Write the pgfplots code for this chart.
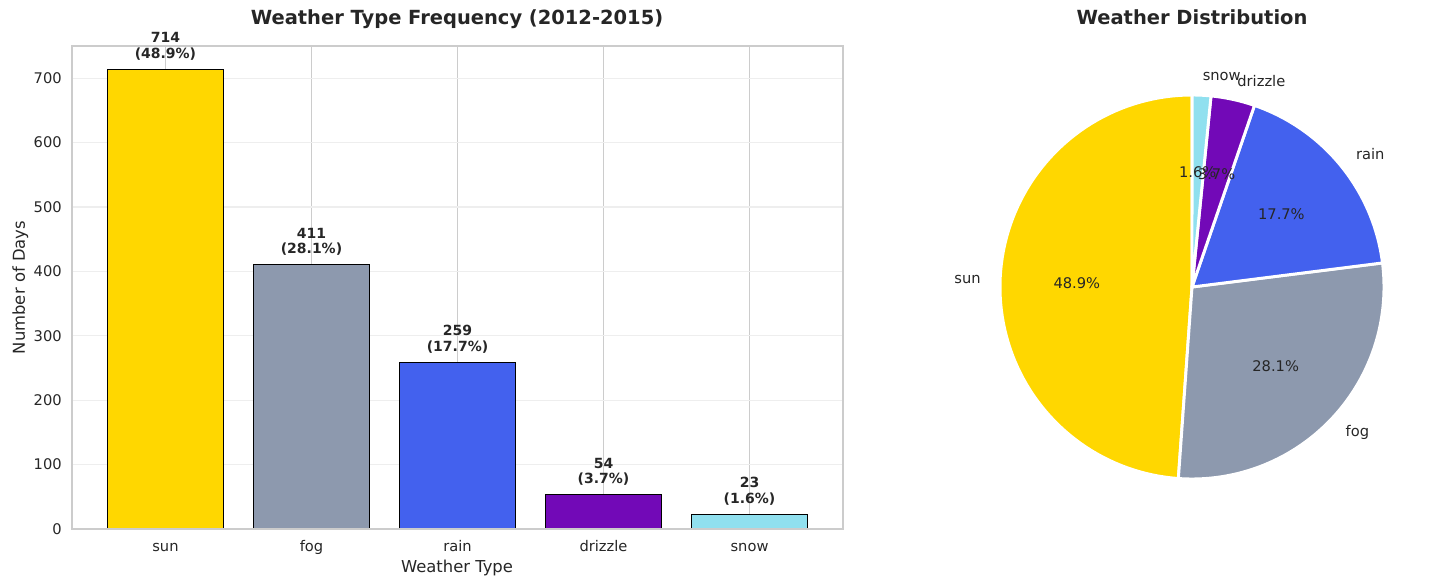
\documentclass[border=0pt]{standalone}
\usepackage{fontspec}
\setmainfont{DejaVu Sans}
\usepackage{pgfplots}
\usepackage{pgfplotstable}
\pgfplotsset{compat=1.18}
\definecolor{c0}{HTML}{FFD700}
\definecolor{c1}{HTML}{8D99AE}
\definecolor{c2}{HTML}{4361EE}
\definecolor{c3}{HTML}{7209B7}
\definecolor{c4}{HTML}{90E0EF}
\definecolor{txt}{HTML}{262626}
\definecolor{frame}{HTML}{CCCCCC}
\definecolor{hgrid}{HTML}{EEEEEE}

\pgfplotstableread{
idx label value pct
0 sun 714 48.9
1 fog 411 28.1
2 rain 259 17.7
3 drizzle 54 3.7
4 snow 23 1.6
}\weather

\newcommand\pa[1]{\csname pstart#1\endcsname}
\newcommand\pb[1]{\csname pend#1\endcsname}
\newcommand\pmd[1]{\csname pmid#1\endcsname}

\begin{document}
\begin{tikzpicture}
\path[use as bounding box] (0pt,0pt) rectangle (1082.25pt,440.25pt);

% pie angles from the table
\pgfmathsetmacro\ptotal{0}
\pgfplotsforeachungrouped \i in {0,...,4}{%
  \pgfplotstablegetelem{\i}{value}\of\weather
  \pgfmathsetmacro\ptotal{\ptotal+\pgfplotsretval}}
\pgfmathsetmacro\pcum{90}
\pgfplotsforeachungrouped \i in {0,...,4}{%
  \pgfplotstablegetelem{\i}{value}\of\weather
  \pgfmathsetmacro\pslice{\pgfplotsretval/\ptotal*360}%
  \expandafter\xdef\csname pstart\i\endcsname{\pcum}%
  \pgfmathsetmacro\pmidv{\pcum+\pslice/2}%
  \expandafter\xdef\csname pmid\i\endcsname{\pmidv}%
  \pgfmathsetmacro\pcum{\pcum+\pslice}%
  \expandafter\xdef\csname pend\i\endcsname{\pcum}%
}

\begin{axis}[
  at={(54pt,43.5pt)}, anchor=south west, scale only axis,
  width=578.25pt, height=362.25pt,
  xmin=-0.64, xmax=4.64, ymin=0, ymax=750,
  xtick={0,...,4},
  xticklabels={sun,fog,rain,drizzle,snow},
  ytick={0,100,...,700},
  major tick length=0,
  axis line style={draw=frame, line width=0.9pt},
  xmajorgrids, ymajorgrids,
  x grid style={frame, line width=0.8pt},
  y grid style={hgrid, line width=0.8pt},
  tick label style={font=\fontsize{11}{13}\selectfont, text=txt, inner sep=0pt},
  xticklabel style={anchor=base, yshift=-16.5pt},
  yticklabel style={anchor=east, xshift=-7.5pt},
  /pgf/number format/assume math mode=true,
  clip=false,
]
\pgfplotsinvokeforeach{0,...,4}{
  \addplot[ybar, bar width=0.8, bar shift=0pt, fill=c#1, draw=black, line width=0.8pt]
    table[x=idx, y=value, restrict x to domain=#1:#1]{\weather};
}
\draw[frame, line width=0.9pt] (rel axis cs:0,0) -- (rel axis cs:1,0);
\tikzset{lab/.style={anchor=south, align=center, inner sep=0pt, text=txt,
  font=\bfseries\fontsize{10.5}{11.8}\selectfont}}
\node[lab] at (axis cs:0,727) {714\\(48.9\%)};
\node[lab] at (axis cs:1,424) {411\\(28.1\%)};
\node[lab] at (axis cs:2,272) {259\\(17.7\%)};
\node[lab] at (axis cs:3,67) {54\\(3.7\%)};
\node[lab] at (axis cs:4,36) {23\\(1.6\%)};
\end{axis}

\begin{axis}[
  at={(894pt,225pt)}, anchor=center, scale only axis,
  width=432pt, height=432pt,
  xmin=-1.5, xmax=1.5, ymin=-1.5, ymax=1.5,
  hide axis, clip=false,
]
\pgfplotsinvokeforeach{0,...,4}{
  \addplot[fill=c#1, draw=white, line width=2.2pt, line join=round,
    domain=\pa{#1}:\pb{#1}, samples=90, variable=\t]
    ({cos(\t)},{sin(\t)}) -- (axis cs:0,0) -- cycle;
}
\tikzset{pl/.style={inner sep=0pt, text=txt, font=\fontsize{11}{13}\selectfont}}
\node[pl, anchor=east] at (axis cs:{1.1*cos(\pmd{0})},{1.1*sin(\pmd{0})}) {sun};
\node[pl, anchor=west] at (axis cs:{1.1*cos(\pmd{1})},{1.1*sin(\pmd{1})}) {fog};
\node[pl, anchor=west] at (axis cs:{1.1*cos(\pmd{2})},{1.1*sin(\pmd{2})}) {rain};
\node[pl, anchor=west] at (axis cs:{1.1*cos(\pmd{3})},{1.1*sin(\pmd{3})}) {drizzle};
\node[pl, anchor=west] at (axis cs:{1.1*cos(\pmd{4})},{1.1*sin(\pmd{4})}) {snow};
\node[pl] at (axis cs:{0.6*cos(\pmd{0})},{0.6*sin(\pmd{0})}) {48.9\%};
\node[pl] at (axis cs:{0.6*cos(\pmd{1})},{0.6*sin(\pmd{1})}) {28.1\%};
\node[pl] at (axis cs:{0.6*cos(\pmd{2})},{0.6*sin(\pmd{2})}) {17.7\%};
\node[pl] at (axis cs:{0.6*cos(\pmd{3})},{0.6*sin(\pmd{3})}) {3.7\%};
\node[pl] at (axis cs:{0.6*cos(\pmd{4})},{0.6*sin(\pmd{4})}) {1.6\%};
\end{axis}

\tikzset{ttl/.style={anchor=base, text=txt, font=\bfseries\fontsize{14.6}{17}\selectfont}}
\node[ttl] at (342.75pt,421.875pt) {Weather Type Frequency (2012-2015)};
\node[ttl] at (894pt,421.875pt) {Weather Distribution};
\node[anchor=base, text=txt, font=\fontsize{12.3}{14}\selectfont] at (342.75pt,11.25pt) {Weather Type};
\node[anchor=base, rotate=90, text=txt, font=\fontsize{12.3}{14}\selectfont] at (18.75pt,224.6pt) {Number of Days};
\end{tikzpicture}
\end{document}
